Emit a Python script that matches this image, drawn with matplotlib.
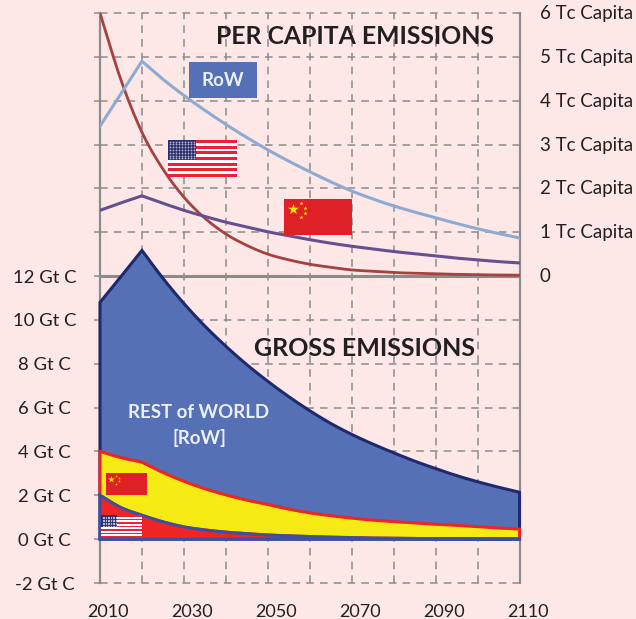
import numpy as np
import matplotlib
matplotlib.use('Agg')
import matplotlib.pyplot as plt
from matplotlib.patches import Rectangle
from matplotlib.transforms import Affine2D, ScaledTranslation

plt.rcParams['font.family'] = ['Lato', 'DejaVu Sans']

years = list(range(2010, 2115, 5))

# per capita, tC per person
pc_row = [3.42, 4.16, 4.90, 4.49, 4.12, 3.78, 3.46, 3.16, 2.88, 2.62, 2.38,
          2.15, 1.94, 1.76, 1.60, 1.46, 1.33, 1.20, 1.08, 0.97, 0.87]
pc_usa = [6.00, 4.47, 3.28, 2.44, 1.80, 1.32, 0.96, 0.70, 0.50, 0.37, 0.27,
          0.20, 0.14, 0.11, 0.08, 0.065, 0.05, 0.04, 0.03, 0.025, 0.02]
pc_china = [1.50, 1.67, 1.83, 1.66, 1.50, 1.36, 1.23, 1.12, 1.01, 0.92, 0.83,
            0.75, 0.68, 0.62, 0.56, 0.51, 0.46, 0.41, 0.37, 0.33, 0.30]

# gross emissions, top of each stacked band, Gt C
top_row = [10.80, 11.98, 13.17, 11.90, 10.75, 9.72, 8.80, 7.96, 7.20, 6.50, 5.86,
           5.28, 4.78, 4.34, 3.94, 3.56, 3.22, 2.90, 2.62, 2.37, 2.14]
top_china = [4.00, 3.72, 3.51, 3.04, 2.64, 2.30, 2.02, 1.78, 1.58, 1.37, 1.20,
             1.07, 0.96, 0.87, 0.80, 0.74, 0.68, 0.63, 0.57, 0.51, 0.46]
top_usa = [2.00, 1.44, 1.09, 0.79, 0.56, 0.42, 0.32, 0.25, 0.19, 0.15, 0.12,
           0.09, 0.07, 0.05, 0.04, 0.03, 0.02, 0.02, 0.01, 0.01, 0.01]

gt_ticks = [-2, 0, 2, 4, 6, 8, 10, 12, 14, 16, 18, 20, 22, 24]
gt_labels = ['-2 Gt C', '0 Gt C', '2 Gt C', '4 Gt C', '6 Gt C', '8 Gt C', '10 Gt C',
             '12 Gt C', '', '', '', '', '', '']
pc_ticks = [0, 1, 2, 3, 4, 5, 6]
pc_labels = ['0', '1 Tc Capita', '2 Tc Capita', '3 Tc Capita', '4 Tc Capita',
             '5 Tc Capita', '6 Tc Capita']
year_ticks = list(range(2010, 2120, 10))
year_labels = ['2010', '', '2030', '', '2050', '', '2070', '', '2090', '', '2110']

BG = '#FDE7E7'
BLUE = '#5570B5'
NAVY = '#1F2A6E'
GRID = '#8C8C8C'
TEXT = '#231F20'
KINK = 2  # index of 2020, where most series change direction


def curve(ys, kink=True):
    # smooth line through the read values, kept sharp at the 2020 corner
    xs = np.array(years, dtype=float)
    ys = np.array(ys, dtype=float)
    parts = [(0, KINK + 1), (KINK, len(xs))] if kink else [(0, len(xs))]
    out_x, out_y = [], []
    for a, b in parts:
        x, y = xs[a:b], ys[a:b]
        slope = np.gradient(y, x)
        for i in range(len(x) - 1):
            h = x[i + 1] - x[i]
            t = np.linspace(0, 1, 9)
            out_x.append(x[i] + t * h)
            out_y.append((2 * t**3 - 3 * t**2 + 1) * y[i] + (t**3 - 2 * t**2 + t) * h * slope[i]
                         + (-2 * t**3 + 3 * t**2) * y[i + 1] + (t**3 - t**2) * h * slope[i + 1])
    return np.concatenate(out_x), np.concatenate(out_y)


fig = plt.figure(figsize=(6.36, 6.19), dpi=100, facecolor=BG)
ax = fig.add_axes([100 / 636, 1 - 583 / 619, 419.5 / 636, 570 / 619], facecolor=BG)
ax.set_xlim(2010, 2110)
ax.set_ylim(-2, 24)

ax.set_xticks(year_ticks, year_labels)
ax.set_yticks(gt_ticks, gt_labels)
ax.grid(True, color=GRID, lw=1.1, linestyle=(0, (5, 4)), zorder=1)
for line in ax.get_xgridlines() + ax.get_ygridlines():
    line.set_clip_on(False)
ax.set_axisbelow(True)
ax.tick_params(axis='x', length=0, pad=15, labelsize=13, labelcolor=TEXT)
ax.tick_params(axis='y', length=4, width=1.1, color=GRID, pad=36, labelsize=13.3, labelcolor=TEXT)
for lab in ax.get_yticklabels():
    lab.set_ha('center')
shift = ScaledTranslation(8 / 100, 0, fig.dpi_scale_trans)
for lab in ax.get_xticklabels():
    lab.set_transform(lab.get_transform() + shift)

for side in ['top', 'bottom']:
    ax.spines[side].set_visible(False)
for side in ['left', 'right']:
    ax.spines[side].set_color(GRID)
    ax.spines[side].set_linewidth(1.6)
ax.axhline(12, color=GRID, lw=2.2, zorder=2)

# stacked bands, tallest first so the smaller ones sit on top
xs_row, ys_row = curve(top_row)
xs_china, ys_china = curve(top_china)
xs_usa, ys_usa = curve(top_usa, kink=False)
ax.fill(np.r_[xs_row, xs_row[::-1]], np.r_[ys_row, 0 * ys_row], facecolor=BLUE, edgecolor=NAVY,
        lw=2.2, zorder=3, clip_on=False)
ax.fill(np.r_[xs_china, xs_usa[::-1]], np.r_[ys_china, ys_usa[::-1]], facecolor='#F5EA14',
        edgecolor='#EE2524', lw=2.2, zorder=4, clip_on=False)
ax.fill(np.r_[xs_usa, xs_usa[::-1]], np.r_[ys_usa, 0 * ys_usa], facecolor='#EE2524',
        edgecolor='#3C50A0', lw=2.2, zorder=5, clip_on=False)

# per capita axis shares the gridded frame, its zero sits on the 12 Gt line
ax2 = ax.twinx()
ax2.set_ylim(-7, 6)
ax2.set_yticks(pc_ticks, pc_labels)
ax2.tick_params(axis='y', length=0, pad=14.5, labelsize=13.5, labelcolor=TEXT)
ax2.patch.set_visible(False)
for spine in ax2.spines.values():
    spine.set_visible(False)
up = ScaledTranslation(0, 1 / 100, fig.dpi_scale_trans)
for lab in ax2.get_yticklabels():
    lab.set_transform(lab.get_transform() + up)

ax2.plot(*curve(pc_usa, kink=False), color='#A5413F', lw=2.0, zorder=6)
ax2.plot(*curve(pc_row), color='#8FAAD0', lw=2.2, zorder=6)
ax2.plot(*curve(pc_china), color='#67508F', lw=2.2, zorder=6)

# flags are placed in image pixels, origin at the top left
px = Affine2D().scale(1, -1).translate(0, 619)


def usa_flag(x0, y0, w, h, star_size):
    ax2.add_patch(Rectangle((x0, y0), w, h, fc='white', ec='none', transform=px, zorder=7))
    band = h / 13
    for i in range(0, 13, 2):
        ax2.add_patch(Rectangle((x0, y0 + i * band), w, band, fc='#EE2039', ec='none',
                                transform=px, zorder=7))
    cw, ch = w * 0.4, band * 7
    ax2.add_patch(Rectangle((x0, y0), cw, ch, fc='#2B2F6B', ec='none', transform=px, zorder=8))
    gx, gy = np.meshgrid(np.linspace(x0 + 1.5, x0 + cw - 1.5, 9), np.linspace(y0 + 1.5, y0 + ch - 1.5, 7))
    ax2.scatter(gx.ravel(), gy.ravel(), s=star_size, c='#B8BBD6', marker='o', linewidths=0,
                transform=px, zorder=9)


def china_flag(x0, y0, w, h, big, small):
    ax2.add_patch(Rectangle((x0, y0), w, h, fc='#DF2026', ec='none', transform=px, zorder=7))
    ax2.scatter([x0 + w * 0.13], [y0 + h * 0.28], s=big, c='#FFE500', marker='*', linewidths=0,
                transform=px, zorder=8)
    sx = [x0 + w * f for f in (0.25, 0.31, 0.31, 0.25)]
    sy = [y0 + h * f for f in (0.12, 0.24, 0.38, 0.49)]
    ax2.scatter(sx, sy, s=small, c='#FFE500', marker='*', linewidths=0, transform=px, zorder=8)


usa_flag(168, 140, 69, 37, 1.6)
usa_flag(101, 515, 41, 23, 0.8)
china_flag(284, 199, 68, 36, 70, 10)
china_flag(106, 473, 41, 22, 26, 4)

ax2.add_patch(Rectangle((189, 62), 68, 36, fc=BLUE, ec='none', transform=px, zorder=7))
ax2.text(223, 81, 'RoW', transform=px, color='#EAF0FA', fontsize=13.5, fontweight='bold',
         ha='center', va='center', zorder=8)
ax2.text(354.5, 37, 'PER CAPITA EMISSIONS', transform=px, color=TEXT, fontsize=17.8,
         fontweight='bold', ha='center', va='center', zorder=8)
ax2.text(365, 348, 'GROSS EMISSIONS', transform=px, color=TEXT, fontsize=18,
         fontweight='bold', ha='center', va='center', zorder=8)
ax2.text(199, 413, 'REST of WORLD', transform=px, color='#EAF0FA', fontsize=13.4,
         fontweight='bold', ha='center', va='center', zorder=8)
ax2.text(199, 438, '[RoW]', transform=px, color='#EAF0FA', fontsize=13.4,
         fontweight='bold', ha='center', va='center', zorder=8)

fig.savefig('out.png', dpi=100, facecolor=BG)
